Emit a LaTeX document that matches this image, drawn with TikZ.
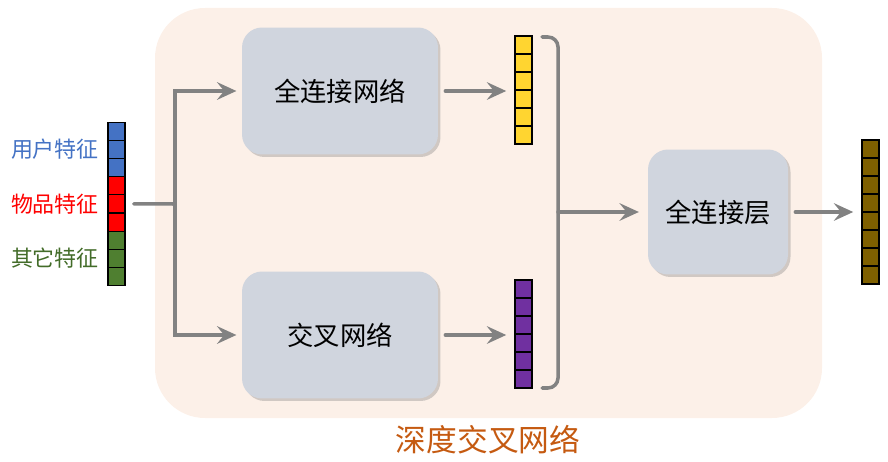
\documentclass[tikz,border=0pt]{standalone}
\usepackage{fontspec}
\newfontfamily\cjk{Noto Sans CJK SC}
\usepackage{xcolor}
\usetikzlibrary{arrows.meta,positioning,shadows}

\definecolor{panelpeach}{HTML}{FCF0E8}
\definecolor{boxgray}{HTML}{D0D5DE}
\definecolor{userblue}{HTML}{4472C4}
\definecolor{itemred}{HTML}{FF0000}
\definecolor{othergreen}{HTML}{4F7F30}
\definecolor{fcyellow}{HTML}{FFD530}
\definecolor{crosspurple}{HTML}{7030A0}
\definecolor{outbrown}{HTML}{7F6000}
\definecolor{titleorange}{HTML}{C55A11}
\definecolor{linkgray}{HTML}{828282}

\begin{document}
\begin{tikzpicture}[
        x=0.02cm, y=-0.02cm,
        font=\cjk,
        netbox/.style={fill=boxgray, rounded corners=0.4cm, minimum width=3.92cm,
            minimum height=2.54cm, font=\cjk\fontsize{15}{18}\selectfont,
            drop shadow={shadow xshift=0.05cm, shadow yshift=-0.05cm, opacity=0.35}},
        cell/.style={draw, line width=0.6pt, minimum width=0.34cm, minimum height=0.36cm,
            inner sep=0pt, outer sep=0pt},
        feat/.style={font=\cjk\fontsize{12.5}{15}\selectfont, anchor=east, inner sep=0pt},
        link/.style={draw=linkgray, line width=2pt, line cap=round},
        >={Stealth[length=11pt, width=10pt, inset=4pt]}
    ]
        \useasboundingbox (0,0) rectangle (888,462);
        % panel of the cross network
        \fill[panelpeach, rounded corners=1cm] (155,8) rectangle (822,418);
        \node[font=\cjk\fontsize{17.5}{20}\selectfont, text=titleorange] (title) at (488,440) {深度交叉网络};

        % input features
        \foreach \i in {1,2,3} \node[cell, fill=userblue] (in\i) at (116.5, 112.9+18.2*\i) {};
        \foreach \i in {4,5,6} \node[cell, fill=itemred] (in\i) at (116.5, 112.9+18.2*\i) {};
        \foreach \i in {7,8,9} \node[cell, fill=othergreen] (in\i) at (116.5, 112.9+18.2*\i) {};
        \node[feat, text=userblue, left=5pt of in2] (user) {用户特征};
        \node[feat, text=itemred, left=5pt of in5] (item) {物品特征};
        \node[feat, text=othergreen!85!black, left=5pt of in8] (other) {其它特征};

        % the two networks
        \node[netbox] (fcnet) at (340,91) {全连接网络};
        \node[netbox] (crossnet) at (340,335) {交叉网络};

        % their outputs
        \foreach \i in {1,...,6} \node[cell, fill=fcyellow] (fc\i) at (523.5, 27+18*\i) {};
        \foreach \i in {1,...,6} \node[cell, fill=crosspurple] (cr\i) at (523.5, 271+18*\i) {};

        % last layer
        \node[netbox, minimum width=2.8cm, minimum height=2.5cm] (fclayer) at (718,212) {全连接层};
        \foreach \i in {1,...,8} \node[cell, fill=outbrown] (out\i) at (870.5, 131+18*\i) {};

        % connectors
        \coordinate (split) at (175,204);
        \draw[link] ([xshift=5pt]in5.east) -- (split);
        \draw[link, ->, shorten >=3pt] (split) |- (fcnet.west);
        \draw[link, ->, shorten >=3pt] (split) |- (crossnet.west);
        \draw[link, ->, shorten <=4pt, shorten >=5pt] (fcnet.east) -- (fc4.west |- fcnet.east);
        \draw[link, ->, shorten <=4pt, shorten >=5pt] (crossnet.east) -- (cr4.west |- crossnet.east);

        % bracket over both outputs
        \coordinate (brace) at (558,212);
        \draw[link, rounded corners=0.2cm] (542,37) -- (558,37) -- (558,388) -- (542,388);
        \draw[link, ->, shorten >=5pt] (brace) -- (fclayer.west);
        \draw[link, ->, shorten <=4pt, shorten >=5pt] (fclayer.east) -- (out5.west |- fclayer.east);
    \end{tikzpicture}
\end{document}
